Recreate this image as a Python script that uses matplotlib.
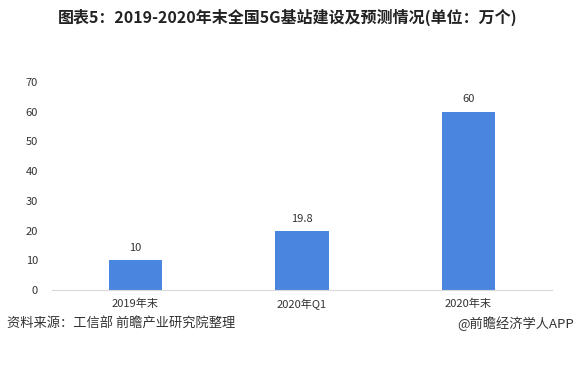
import matplotlib
matplotlib.use('Agg')
import matplotlib.pyplot as plt

plt.rcParams['font.family'] = ['Noto Sans CJK SC', 'DejaVu Sans']

categories = ['2019年末', '2020年Q1', '2020年末']
values = [10, 19.8, 60]
value_labels = ['10', '19.8', '60']

fig = plt.figure(figsize=(5.76, 3.66), dpi=100)
ax = fig.add_axes([0.0903, 0.2077, 0.8677, 0.5683])

bar_color = '#4a86e0'
ax.bar(range(len(categories)), values, width=0.32, color=bar_color)
for i, v in enumerate(values):
    ax.text(i, v + 2.5, value_labels[i], ha='center', va='bottom', fontsize=8, color='#333333')

ax.set_xlim(-0.5, 2.5)
ax.set_ylim(0, 70)
ax.set_yticks(range(0, 71, 10))
ax.set_xticks(range(len(categories)))
ax.set_xticklabels(categories)
ax.tick_params(axis='both', length=0, labelsize=8, colors='#333333')
ax.tick_params(axis='y', pad=10)
ax.tick_params(axis='x', pad=6)

for side in ['top', 'right', 'left']:
    ax.spines[side].set_visible(False)
ax.spines['bottom'].set_color('#d9d9d9')

fig.text(0.5, 0.953, '图表5：2019-2020年末全国5G基站建设及预测情况(单位：万个)',
         ha='center', va='center', fontsize=11.5, fontweight='bold', color='#222222')
fig.text(0.012, 0.115, '资料来源：工信部 前瞻产业研究院整理', ha='left', va='center',
         fontsize=9.5, color='#333333')
fig.text(0.997, 0.115, '@前瞻经济学人APP', ha='right', va='center',
         fontsize=9.5, color='#333333')

fig.savefig('out.png', dpi=100)
